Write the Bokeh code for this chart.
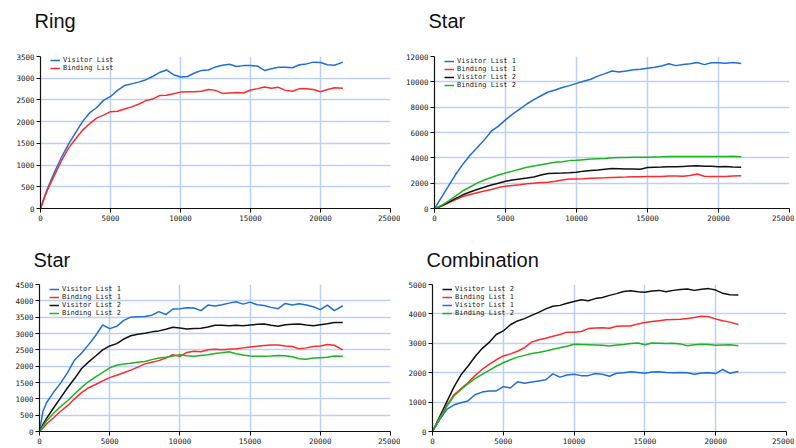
from bokeh.plotting import figure
from bokeh.models import Range1d, FixedTicker, Legend, LegendItem, Title, BasicTickFormatter
from bokeh.layouts import column, row
from bokeh.embed import file_html
from bokeh.resources import INLINE

# ---------------- data ----------------
steps = [0, 250, 500, 1000, 1500, 2000, 2500, 3000, 3500, 4000, 4500, 5000, 5500, 6000,
         6500, 7000, 7500, 8000, 8500, 9000, 9500, 10000, 10500, 11000, 11500, 12000,
         12500, 13000, 13500, 14000, 14500, 15000, 15500, 16000, 16500, 17000, 17500,
         18000, 18500, 19000, 19500, 20000, 20500, 21000, 21600]

x_ticks = [0, 5000, 10000, 15000, 20000, 25000]

# Ring
ring_visitor = [0, 240, 460, 840, 1180, 1480, 1740, 2000, 2200, 2320, 2490, 2580, 2720, 2830,
                2870, 2910, 2960, 3040, 3130, 3190, 3080, 3030, 3040, 3120, 3180, 3190, 3260,
                3300, 3320, 3270, 3290, 3290, 3280, 3180, 3220, 3250, 3250, 3240, 3310, 3330,
                3370, 3360, 3310, 3300, 3370]
ring_binding = [0, 220, 430, 770, 1100, 1390, 1600, 1800, 1950, 2080, 2150, 2230, 2240, 2290,
                2340, 2400, 2480, 2520, 2600, 2610, 2640, 2680, 2690, 2690, 2700, 2740, 2720,
                2650, 2660, 2670, 2660, 2730, 2760, 2800, 2770, 2790, 2720, 2700, 2760, 2760,
                2740, 2690, 2740, 2780, 2770]
ring_y_ticks = [0, 500, 1000, 1500, 2000, 2500, 3000, 3500]

# Star (top right)
star_visitor1 = [0, 450, 900, 1800, 2700, 3500, 4200, 4800, 5400, 6100, 6500, 7000, 7450, 7850,
                 8250, 8600, 8900, 9200, 9350, 9550, 9700, 9880, 10050, 10200, 10450, 10650,
                 10850, 10780, 10850, 10950, 11000, 11080, 11150, 11250, 11430, 11280, 11360,
                 11420, 11530, 11360, 11500, 11500, 11470, 11520, 11450]
star_binding1 = [0, 90, 200, 450, 700, 950, 1100, 1250, 1380, 1500, 1650, 1750, 1820, 1880,
                 1950, 2000, 2050, 2080, 2150, 2250, 2320, 2330, 2350, 2380, 2400, 2420, 2450,
                 2470, 2480, 2500, 2500, 2520, 2520, 2530, 2560, 2570, 2540, 2600, 2720, 2540,
                 2520, 2530, 2520, 2560, 2580]
star_visitor2 = [0, 100, 220, 500, 800, 1080, 1300, 1500, 1680, 1850, 2000, 2150, 2250, 2330,
                 2400, 2480, 2650, 2760, 2790, 2800, 2820, 2860, 2950, 3000, 3040, 3100, 3150,
                 3140, 3110, 3110, 3100, 3230, 3250, 3270, 3300, 3290, 3320, 3350, 3380, 3340,
                 3330, 3300, 3310, 3280, 3250]
star_binding2 = [0, 120, 250, 600, 1000, 1400, 1700, 2000, 2250, 2450, 2650, 2800, 2950, 3100,
                 3250, 3350, 3450, 3550, 3650, 3700, 3780, 3800, 3850, 3900, 3930, 3950, 4000,
                 4020, 4030, 4040, 4050, 4040, 4070, 4080, 4100, 4110, 4100, 4100, 4110, 4100,
                 4110, 4100, 4100, 4120, 4080]
star_y_ticks = [0, 2000, 4000, 6000, 8000, 10000, 12000]

# Star (bottom left)
star3_visitor1 = [0, 620, 880, 1200, 1480, 1800, 2190, 2400, 2660, 2940, 3260, 3150, 3220, 3400,
                  3500, 3510, 3520, 3560, 3670, 3580, 3750, 3760, 3790, 3780, 3700, 3870, 3840,
                  3880, 3930, 3970, 3900, 3960, 3880, 3860, 3800, 3760, 3920, 3870, 3910, 3870,
                  3820, 3730, 3870, 3700, 3850]
star3_binding1 = [0, 110, 230, 420, 620, 790, 1000, 1190, 1340, 1440, 1550, 1650, 1720, 1800,
                  1880, 1970, 2070, 2120, 2170, 2250, 2350, 2300, 2420, 2460, 2440, 2500, 2520,
                  2500, 2520, 2530, 2560, 2590, 2610, 2630, 2650, 2650, 2620, 2600, 2530, 2560,
                  2600, 2620, 2660, 2640, 2500]
star3_visitor2 = [0, 220, 400, 720, 1030, 1340, 1620, 1930, 2130, 2310, 2500, 2620, 2690, 2830,
                  2930, 2980, 3010, 3050, 3080, 3130, 3190, 3170, 3140, 3150, 3160, 3200, 3250,
                  3250, 3240, 3250, 3240, 3260, 3280, 3290, 3250, 3220, 3270, 3280, 3290, 3260,
                  3240, 3270, 3300, 3340, 3335]
star3_binding2 = [0, 170, 320, 560, 760, 940, 1150, 1350, 1530, 1670, 1810, 1950, 2030, 2070,
                  2090, 2120, 2140, 2200, 2250, 2270, 2310, 2350, 2320, 2300, 2330, 2350, 2390,
                  2410, 2440, 2380, 2340, 2310, 2300, 2300, 2310, 2330, 2320, 2290, 2230, 2210,
                  2250, 2260, 2270, 2310, 2300]
star3_y_ticks = [0, 500, 1000, 1500, 2000, 2500, 3000, 3500, 4000, 4500]

# Combination
combo_visitor2 = [0, 250, 500, 1000, 1500, 1920, 2220, 2540, 2820, 3030, 3300, 3420, 3630, 3760,
                  3840, 3950, 4050, 4170, 4260, 4290, 4360, 4420, 4480, 4450, 4520, 4560, 4630,
                  4690, 4760, 4790, 4750, 4740, 4780, 4800, 4750, 4800, 4830, 4850, 4800, 4840,
                  4860, 4810, 4700, 4650, 4640]
combo_binding1 = [0, 230, 450, 880, 1240, 1450, 1660, 1900, 2110, 2280, 2440, 2570, 2640, 2730,
                  2850, 3040, 3120, 3170, 3240, 3300, 3380, 3380, 3400, 3500, 3520, 3530, 3510,
                  3580, 3590, 3590, 3660, 3710, 3740, 3770, 3800, 3810, 3820, 3840, 3880, 3920,
                  3900, 3830, 3770, 3720, 3640]
combo_visitor1 = [0, 200, 400, 750, 900, 980, 1040, 1250, 1340, 1380, 1380, 1530, 1480, 1690,
                  1640, 1680, 1720, 1760, 1960, 1850, 1920, 1950, 1900, 1900, 1970, 1950, 1880,
                  1980, 2000, 2030, 2010, 1980, 2020, 2030, 2010, 2000, 2010, 2000, 1950, 1990,
                  2000, 1970, 2110, 1980, 2040]
combo_binding2 = [0, 220, 430, 850, 1200, 1420, 1620, 1800, 1940, 2080, 2220, 2340, 2440, 2530,
                  2590, 2650, 2690, 2740, 2800, 2850, 2900, 2970, 2960, 2950, 2940, 2930, 2910,
                  2940, 2960, 2990, 3010, 2950, 3010, 3000, 2990, 3000, 2980, 2920, 2950, 2970,
                  2960, 2930, 2940, 2950, 2920]
combo_y_ticks = [0, 1000, 2000, 3000, 4000, 5000]

BLUE = "#1f6fd6"
RED = "#ff2a2a"
BLACK = "#111111"
GREEN = "#1fb41f"
GRID = "#bccff5"
TICK_FONT = "DejaVu Sans Mono"


def make_panel(title, series, y_ticks, width, height, b_left, b_right, b_top, b_bottom,
               title_gap):
    frame_h = height - b_top - b_bottom
    p = figure(width=width, height=height, output_backend="svg", toolbar_location=None,
               x_range=Range1d(0, x_ticks[-1]), y_range=Range1d(0, y_ticks[-1]),
               min_border_left=b_left, min_border_right=b_right,
               min_border_top=b_top, min_border_bottom=b_bottom)
    p.outline_line_color = None
    p.background_fill_color = "white"
    p.border_fill_color = "white"

    for ax, ticks in ((p.xaxis[0], x_ticks), (p.yaxis[0], y_ticks)):
        ax.ticker = FixedTicker(ticks=ticks)
        ax.formatter = BasicTickFormatter(use_scientific=False)
        ax.axis_line_color = "#111111"
        ax.axis_line_width = 1.2
        ax.major_tick_line_color = "#111111"
        ax.major_tick_out = 4
        ax.major_tick_in = 0
        ax.minor_tick_out = 0
        ax.minor_tick_in = 0
        ax.major_label_text_font = TICK_FONT
        ax.major_label_text_font_size = "7.5px"
        ax.major_label_text_color = "#222222"
        ax.major_label_standoff = 2

    p.xgrid.ticker = FixedTicker(ticks=x_ticks)
    p.ygrid.ticker = FixedTicker(ticks=y_ticks)
    for g in (p.xgrid[0], p.ygrid[0]):
        g.grid_line_color = GRID
        g.grid_line_width = 1.5

    items = []
    for name, vals, color in series:
        r = p.line(steps, vals, line_color=color, line_width=1.5)
        items.append(LegendItem(label=name, renderers=[r]))

    n = len(items)
    leg = Legend(items=items, location=(10, frame_h - n * 8.2),
                 label_text_font=TICK_FONT, label_text_font_size="7px",
                 label_text_color="#222222", label_height=8, glyph_height=8,
                 glyph_width=10, label_standoff=3, spacing=0, padding=0, margin=0,
                 background_fill_alpha=0, border_line_alpha=0)
    p.add_layout(leg, "center")

    # invisible spacer between the frame and the title, lifting the title up
    if title_gap > 0:
        p.add_layout(Title(text=" ", text_font_size="2px", standoff=title_gap), "above")
    p.add_layout(Title(text=title, text_font="Liberation Sans", text_font_size="20px",
                       text_font_style="normal", text_color="#111111", align="left",
                       vertical_align="top", offset=-6, standoff=4), "above")
    return p


p1 = make_panel("Ring",
                [("Visitor List", ring_visitor, BLUE), ("Binding List", ring_binding, RED)],
                ring_y_ticks, 400, 236, 40, 10, 56, 28, 17)
p2 = make_panel("Star",
                [("Visitor List 1", star_visitor1, BLUE), ("Binding List 1", star_binding1, RED),
                 ("Visitor List 2", star_visitor2, BLACK), ("Binding List 2", star_binding2, GREEN)],
                star_y_ticks, 394, 236, 34, 5, 56, 28, 17)
p3 = make_panel("Star",
                [("Visitor List 1", star3_visitor1, BLUE), ("Binding List 1", star3_binding1, RED),
                 ("Visitor List 2", star3_visitor2, BLACK), ("Binding List 2", star3_binding2, GREEN)],
                star3_y_ticks, 400, 210, 39, 10, 48, 15, 6)
p4 = make_panel("Combination",
                [("Visitor List 2", combo_visitor2, BLACK), ("Binding List 1", combo_binding1, RED),
                 ("Visitor List 1", combo_visitor1, BLUE), ("Binding List 2", combo_binding2, GREEN)],
                combo_y_ticks, 394, 210, 32, 8, 48, 15, 6)

layout = column(row(p1, p2), row(p3, p4))

open("out.html", "w").write(file_html(layout, INLINE))
